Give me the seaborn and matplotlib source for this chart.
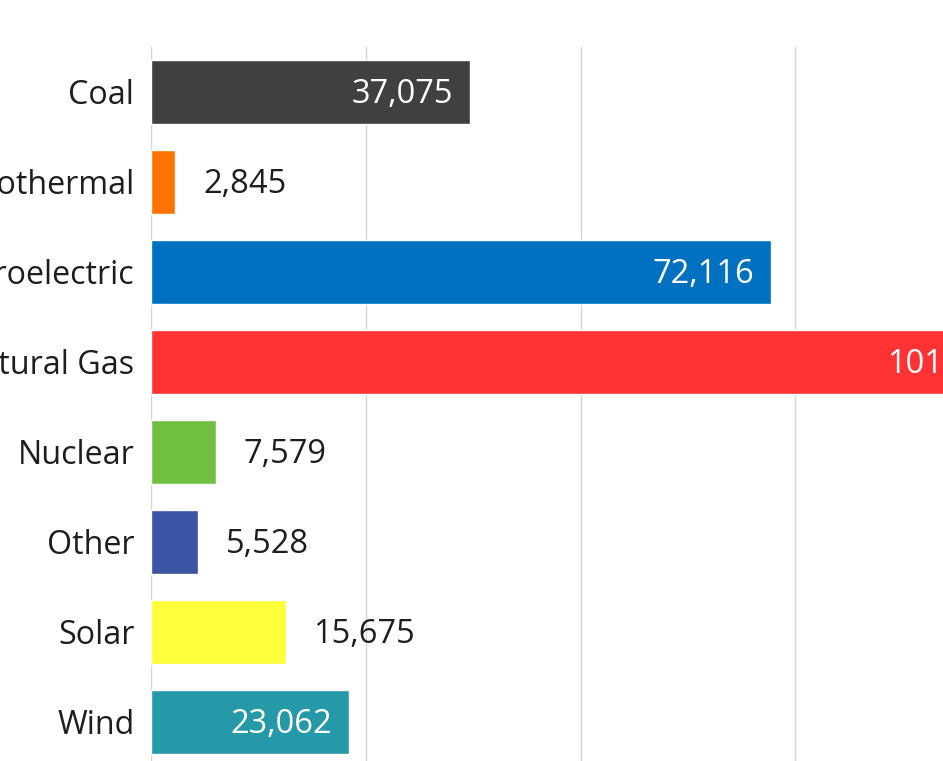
import matplotlib
matplotlib.use("Agg")
import pandas as pd
import seaborn as sns
import matplotlib.pyplot as plt

# Capacity by source
sources = ['Coal', 'Geothermal', 'Hydroelectric', 'Natural Gas',
           'Nuclear', 'Other', 'Solar', 'Wind']
capacity = [37075, 2845, 72116, 101650, 7579, 5528, 15675, 23062]
colors = ['#404040', '#FF7300', '#0070C0', '#FF3333',
          '#70BF41', '#3B54A4', '#FFFF3C', '#2599A8']
# which labels sit inside the bar (white) vs. outside (dark)
inside = [True, False, True, True, False, False, False, True]

df = pd.DataFrame({'source': sources, 'capacity': capacity})

sns.set_style('white')
plt.rcParams['font.family'] = ['Open Sans', 'DejaVu Sans']

fig = plt.figure(figsize=(9.43, 7.61), dpi=100)
ax = fig.add_axes([151 / 943, -6 / 761, 945 / 943, 720 / 761])

sns.barplot(data=df, y='source', x='capacity', hue='source',
            palette=colors, legend=False, width=0.71, orient='h',
            saturation=1, ax=ax)

ax.set_xlim(0, 110000)
ax.set_ylim(7.5, -0.5)
ax.set_xticks([0, 25000, 50000, 75000, 100000])
ax.set_xticklabels([])
ax.grid(axis='x', color='#D4D4D4', linewidth=1.0)
ax.grid(axis='y', visible=False)
ax.set_axisbelow(True)
for s in ax.spines.values():
    s.set_visible(False)
ax.set_xlabel('')
ax.set_ylabel('')
ax.tick_params(axis='both', length=0)
ax.tick_params(axis='y', pad=12, labelsize=23.2, labelcolor='#1E1E1E')

# value labels
for i, (v, ins) in enumerate(zip(capacity, inside)):
    txt = f'{v:,}'
    if ins:
        ax.annotate(txt, (v, i), xytext=(-12, -2), textcoords='offset points',
                    ha='right', va='center', fontsize=23.5, color='white',
                    annotation_clip=False)
    else:
        ax.annotate(txt, (v, i), xytext=(20, -2), textcoords='offset points',
                    ha='left', va='center', fontsize=23.5, color='#1E1E1E',
                    annotation_clip=False)

plt.savefig('out.png', dpi=100)
